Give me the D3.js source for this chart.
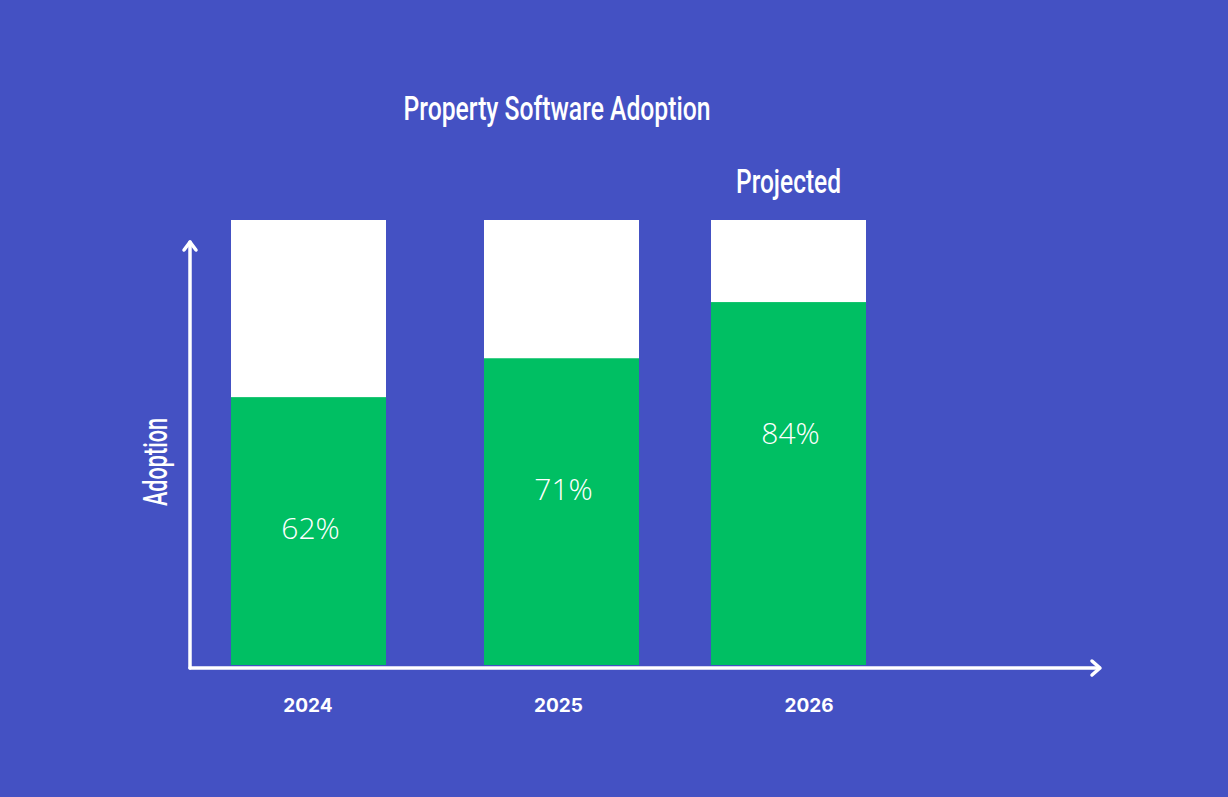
<!DOCTYPE html>
<html>
<head>
<meta charset="utf-8">
<script src="https://cdn.jsdelivr.net/npm/d3@7"></script>
<style>
  html, body { margin: 0; padding: 0; background: #4451c3; }
  svg { display: block; }
</style>
</head>
<body>
<div id="chart"></div>
<script>
  // chart data
  const years = ['2024', '2025', '2026'];
  const adoption = [62, 71, 84];
  const notes = ['', '', 'Projected'];

  const W = 1228, H = 797;
  const condensed = 'Roboto, "Noto Sans", sans-serif';

  const svg = d3.select('#chart').append('svg')
    .attr('width', W)
    .attr('height', H);

  svg.append('rect')
    .attr('width', W).attr('height', H)
    .attr('fill', '#4451c3');

  // bar left edges, year label centres
  const xBar = d3.scaleOrdinal()
    .domain(years)
    .range([231, 484, 711]);
  const xLabel = d3.scalePoint()
    .domain(years)
    .range([308, 809]);
  const barW = 155;

  // y track runs from bottom of bars to top of white boxes
  const y = d3.scaleLinear()
    .domain([0, 103])
    .range([665, 220]);

  const rows = years.map(function(d, i) {
    return { year: d, value: adoption[i], note: notes[i] };
  });

  const g = svg.append('g');

  // white tracks
  g.selectAll('.track')
    .data(rows)
    .enter().append('rect')
    .attr('class', 'track')
    .attr('x', function(d) { return xBar(d.year); })
    .attr('y', y.range()[1])
    .attr('width', barW)
    .attr('height', y.range()[0] - y.range()[1])
    .attr('fill', '#ffffff');

  // green value bars
  g.selectAll('.bar')
    .data(rows)
    .enter().append('rect')
    .attr('class', 'bar')
    .attr('x', function(d) { return xBar(d.year); })
    .attr('y', function(d) { return y(d.value); })
    .attr('width', barW)
    .attr('height', function(d) { return y(0) - y(d.value); })
    .attr('fill', '#00bf63');

  // percent labels
  g.selectAll('.pct')
    .data(rows)
    .enter().append('text')
    .attr('class', 'pct')
    .attr('x', function(d) { return xBar(d.year) + barW / 2 + 2; })
    .attr('y', function(d) { return y(d.value) + 142; })
    .attr('text-anchor', 'middle')
    .attr('fill', '#ffffff')
    .style('font-family', '"Open Sans", sans-serif')
    .style('font-weight', 300)
    .style('font-size', '30px')
    .text(function(d) { return d.value + '%'; });

  // year labels
  g.selectAll('.year')
    .data(rows)
    .enter().append('text')
    .attr('class', 'year')
    .attr('x', function(d) { return xLabel(d.year); })
    .attr('y', 712)
    .attr('text-anchor', 'middle')
    .attr('fill', '#ffffff')
    .style('font-family', 'Inter, "Open Sans", sans-serif')
    .style('font-weight', 700)
    .style('font-size', '19px')
    .text(function(d) { return d.year; });

  // notes above bars
  g.selectAll('.note')
    .data(rows.filter(function(d) { return d.note; }))
    .enter().append('text')
    .attr('class', 'note')
    .attr('x', function(d) { return xBar(d.year) + barW / 2; })
    .attr('y', 193)
    .attr('text-anchor', 'middle')
    .attr('textLength', 105)
    .attr('lengthAdjust', 'spacingAndGlyphs')
    .attr('fill', '#ffffff')
    .style('font-family', condensed)
    .style('font-weight', 500)
    .style('font-size', '34px')
    .text(function(d) { return d.note; });

  // axes with open arrow heads
  const axis = svg.append('g')
    .attr('stroke', '#ffffff')
    .attr('stroke-width', 3.5)
    .attr('fill', 'none')
    .attr('stroke-linecap', 'round')
    .attr('stroke-linejoin', 'round');

  axis.append('path').attr('d', 'M190,668 L190,242');
  axis.append('path').attr('d', 'M184,250 L190,242 L196,250');
  axis.append('path').attr('d', 'M190,668 L1099,668');
  axis.append('path').attr('d', 'M1092,661 L1100,668 L1092,675');

  // title
  svg.append('text')
    .attr('x', 557)
    .attr('y', 120)
    .attr('text-anchor', 'middle')
    .attr('textLength', 307)
    .attr('lengthAdjust', 'spacingAndGlyphs')
    .attr('fill', '#ffffff')
    .style('font-family', condensed)
    .style('font-weight', 500)
    .style('font-size', '34px')
    .text('Property Software Adoption');

  // y axis title
  svg.append('text')
    .attr('transform', 'translate(167,462) rotate(-90)')
    .attr('text-anchor', 'middle')
    .attr('textLength', 88)
    .attr('lengthAdjust', 'spacingAndGlyphs')
    .attr('fill', '#ffffff')
    .style('font-family', condensed)
    .style('font-weight', 500)
    .style('font-size', '33px')
    .text('Adoption');
</script>
</body>
</html>
